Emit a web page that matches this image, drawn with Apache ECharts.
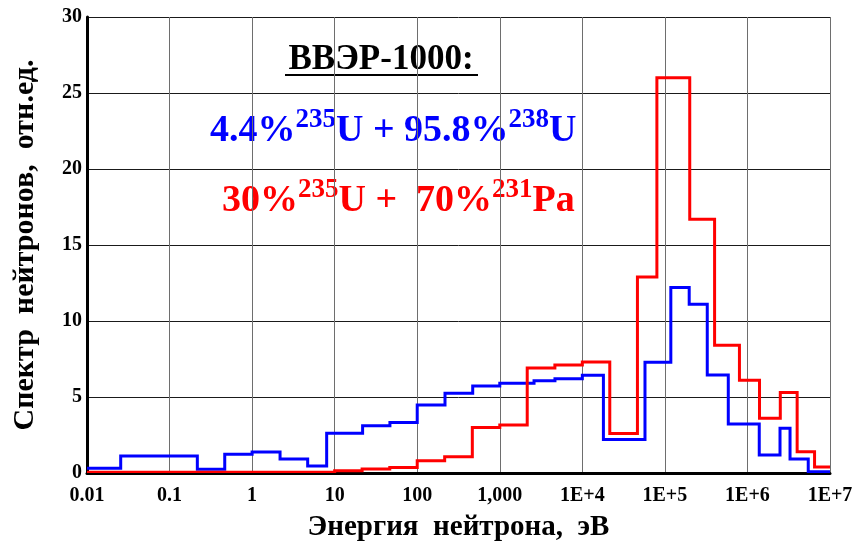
<!DOCTYPE html>
<html>
<head>
<meta charset="utf-8">
<script src="https://cdn.jsdelivr.net/npm/echarts@6/dist/echarts.min.js"></script>
<style>
  html, body { margin: 0; padding: 0; background: #fff; }
  #chart { width: 856px; height: 542px; }
</style>
</head>
<body>
<div id="chart"></div>
<script>
// границы энергетических групп (эВ) и значения спектра
var xTickLabels = ['0.01', '0.1', '1', '10', '100', '1,000', '1E+4', '1E+5', '1E+6', '1E+7']

var blueEdges = [0.01, 0.0256, 0.217, 0.466, 1.0, 2.18, 4.71, 8.0, 21.8, 46.7, 100, 217, 470, 1000, 2600, 4660, 10000,
  18000, 57400, 118000, 197000, 326000, 586000, 1.39e6, 2.48e6, 3.28e6, 5.45e6, 1e7]
var blueValues = [0.31, 1.12, 0.24, 1.23, 1.38, 0.92, 0.46, 2.61, 3.11, 3.33, 4.47, 5.24, 5.72, 5.9, 6.07, 6.2, 6.43,
  2.21, 7.28, 12.2, 11.1, 6.45, 3.22, 1.18, 2.94, 0.92, 0.09]

var redEdges = [0.01, 10, 21.5, 46.5, 100, 215, 465, 1000, 2150, 4650, 10000, 21500, 46500, 80000, 200000, 400000,
  800000, 1.4e6, 2.5e6, 4e6, 6.5e6, 1e7]
var redValues = [0.05, 0.15, 0.26, 0.37, 0.81, 1.07, 3.0, 3.16, 6.9, 7.1, 7.3, 2.6, 12.9, 26.0, 16.7, 8.4, 6.1, 3.6,
  5.3, 1.4, 0.4]

// гистограмма: значение группы тянется до следующей границы
function steps (edges, values) {
  var pts = []
  for (var i = 0; i < values.length; i++) {
    pts.push([edges[i], values[i]])
    pts.push([edges[i + 1], values[i]])
  }
  return pts
}

// одна ломаная на всю серию (обычная line-серия съедает ступеньки < 2px)
function stepSeries (name, pts, color) {
  return {
    name: name,
    type: 'custom',
    clip: true,
    data: pts,
    renderItem: function (params, api) {
      if (params.dataIndex !== 0) return null
      var points = pts.map(function (p) { return api.coord(p) })
      return {
        type: 'polyline',
        shape: { points: points },
        style: { stroke: color, lineWidth: 3, fill: null, lineJoin: 'miter' }
      }
    }
  }
}

var font = 'Liberation Serif'
var myChart = echarts.init(document.getElementById('chart'))

var option = {
  animation: false,
  grid: {
    left: 87,
    top: 17,
    right: 26,
    bottom: 69,
    containLabel: false,
    outerBoundsMode: 'none'
  },
  xAxis: {
    type: 'log',
    logBase: 10,
    min: 0.01,
    max: 1e7,
    splitNumber: 9,
    name: 'Энергия  нейтрона,  эВ',
    nameLocation: 'middle',
    nameGap: 40,
    nameTextStyle: { fontFamily: font, fontWeight: 'bold', fontSize: 29, color: '#000' },
    axisLine: { show: true, onZero: false, lineStyle: { color: '#000', width: 3 } },
    axisTick: { show: false },
    axisLabel: {
      margin: 13,
      fontFamily: font,
      fontWeight: 'bold',
      fontSize: 20,
      color: '#000',
      formatter: function (v) {
        var k = Math.round(Math.log10(v)) + 2
        return xTickLabels[k] || ''
      }
    },
    splitLine: { show: true, lineStyle: { color: '#6e6e6e', width: 1 } }
  },
  yAxis: {
    type: 'value',
    min: 0,
    max: 30,
    interval: 5,
    name: 'Спектр  нейтронов,  отн.ед.',
    nameLocation: 'middle',
    nameGap: 47,
    nameTextStyle: { fontFamily: font, fontWeight: 'bold', fontSize: 30, color: '#000' },
    axisLine: { show: true, lineStyle: { color: '#000', width: 3 } },
    axisTick: { show: false },
    axisLabel: { margin: 5, fontFamily: font, fontWeight: 'bold', fontSize: 20, color: '#000' },
    splitLine: { show: true, lineStyle: { color: '#1a1a1a', width: 1 } }
  },
  series: [
    stepSeries('U', steps(blueEdges, blueValues), '#0000ff'),
    stepSeries('Pa', steps(redEdges, redValues), '#ff0000')
  ],
  graphic: [
    {
      type: 'text',
      x: 381,
      y: 60,
      style: {
        text: 'ВВЭР-1000:',
        fill: '#000',
        font: 'bold 35px "Liberation Serif"',
        textAlign: 'center',
        textVerticalAlign: 'middle'
      }
    },
    {
      type: 'line',
      shape: { x1: 285, y1: 75, x2: 478, y2: 75 },
      style: { stroke: '#000', lineWidth: 2 }
    },
    {
      type: 'text',
      x: 210,
      y: 131,
      style: {
        text: '{a|4.4%}{s|235}{a|U + 95.8%}{s|238}{a|U}',
        fill: '#0000ff',
        textVerticalAlign: 'middle',
        rich: {
          a: { fontFamily: font, fontWeight: 'bold', fontSize: 38, lineHeight: 48, fill: '#0000ff' },
          s: { fontFamily: font, fontWeight: 'bold', fontSize: 27, lineHeight: 27, verticalAlign: 'top', fill: '#0000ff' }
        }
      }
    },
    {
      type: 'text',
      x: 222,
      y: 201,
      style: {
        text: '{a|30%}{s|235}{a|U +  70%}{s|231}{a|Pa}',
        fill: '#ff0000',
        textVerticalAlign: 'middle',
        rich: {
          a: { fontFamily: font, fontWeight: 'bold', fontSize: 38, lineHeight: 48, fill: '#ff0000' },
          s: { fontFamily: font, fontWeight: 'bold', fontSize: 27, lineHeight: 27, verticalAlign: 'top', fill: '#ff0000' }
        }
      }
    }
  ]
}
myChart.setOption(option)
</script>
</body>
</html>
